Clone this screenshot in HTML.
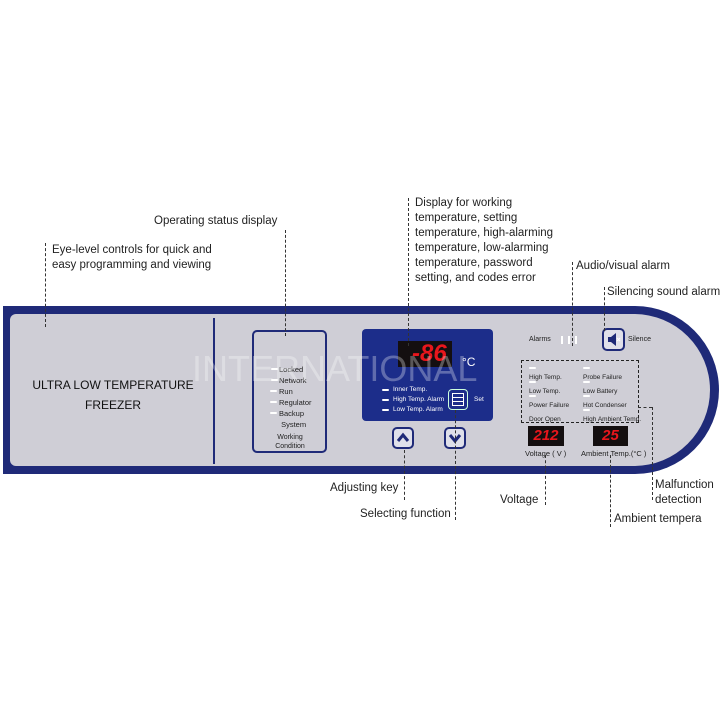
<!DOCTYPE html>
<html><head><meta charset="utf-8"><style>
body{margin:0;width:723px;height:723px;background:#fff;position:relative;overflow:hidden;font-family:"Liberation Sans",sans-serif}
.a{position:absolute}
.lbl{position:absolute;font-size:11.5px;color:#222;line-height:15px;white-space:nowrap}
.vd{position:absolute;border-left:1px dashed #333;width:0}
.s{position:absolute;font-size:6.5px;color:#222;white-space:nowrap}
.led{position:absolute;width:7px;height:2px;background:#fff;border-radius:1px}
</style></head><body>
<div class="a" style="left:3px;top:306px;width:716px;height:168px;background:#1f2a78;border-radius:0 84px 84px 0"></div>
<div class="a" style="left:10px;top:314px;width:700px;height:152px;background:#cfced6;border-radius:6px 76px 76px 6px"></div>
<div class="a" style="left:213px;top:318px;width:2px;height:146px;background:#1f2a78"></div>
<div class="a" style="left:28px;top:375px;font-size:12px;color:#111;text-align:center;width:170px;line-height:20px">ULTRA LOW TEMPERATURE<br>FREEZER</div>
<div class="a" style="left:252px;top:330px;width:71px;height:119px;border:2px solid #1f2a78;border-radius:5px"></div>
<div class="s" style="left:279px;top:364px;font-size:7.5px;line-height:11px">Locked<br>Network<br>Run<br>Regulator<br>Backup<br>&nbsp;System</div>
<div class="led" style="left:271px;top:368px"></div><div class="led" style="left:271px;top:379px"></div><div class="led" style="left:270px;top:390px"></div><div class="led" style="left:270px;top:401px"></div><div class="led" style="left:270px;top:412px"></div>
<div class="s" style="left:270px;top:433px;font-size:7px;text-align:center;width:40px;line-height:9px">Working<br>Condition</div>
<div class="a" style="left:362px;top:329px;width:131px;height:92px;background:#1c2d8a;border-radius:4px"></div>
<div class="a" style="left:398px;top:341px;width:54px;height:26px;background:#140f10"></div>
<div class="a" style="left:412px;top:340px;font-size:24px;font-style:italic;font-weight:bold;color:#e8161c">-86</div>
<div class="a" style="left:462px;top:355px;font-size:12px;color:#fff">°C</div>
<div class="led" style="left:382px;top:389px"></div><div class="led" style="left:382px;top:399px"></div><div class="led" style="left:382px;top:409px"></div>
<div class="s" style="left:393px;top:385px;color:#fff;font-size:6.5px;line-height:10px">Inner Temp.<br>High Temp. Alarm<br>Low Temp. Alarm</div>
<div class="a" style="left:448px;top:389px;width:18px;height:19px;background:#1c2d8a;border:1px solid #cfd;border-radius:4px;box-shadow:0 0 0 1px #1c2d8a"></div>
<div class="a" style="left:452px;top:393px;width:10px;height:11px;border:1px solid #fff;background:repeating-linear-gradient(#1c2d8a 0 3px,#fff 3px 4px)"></div>
<div class="s" style="left:474px;top:396px;color:#fff">Set</div>
<div class="a" style="left:192px;top:348px;font-size:36px;color:rgba(255,255,255,0.3)">INTERNATIONAL</div>
<svg class="a" style="left:392px;top:427px" width="22" height="22"><rect x="1" y="1" width="20" height="20" rx="4" fill="#dfe0ea" stroke="#1f2a78" stroke-width="2"/><path d="M6 14 L11 8 L16 14" fill="none" stroke="#1f2a78" stroke-width="3"/></svg>
<svg class="a" style="left:444px;top:427px" width="22" height="22"><rect x="1" y="1" width="20" height="20" rx="4" fill="#dfe0ea" stroke="#1f2a78" stroke-width="2"/><path d="M6 8 L11 14 L16 8" fill="none" stroke="#1f2a78" stroke-width="3"/></svg>
<div class="s" style="left:529px;top:336px;font-size:7px">Alarms</div>
<div class="a" style="left:561px;top:336px;width:2px;height:8px;background:#fff"></div><div class="a" style="left:568px;top:336px;width:2px;height:8px;background:#fff"></div><div class="a" style="left:575px;top:336px;width:2px;height:8px;background:#fff"></div>
<svg class="a" style="left:602px;top:328px" width="23" height="23"><rect x="1" y="1" width="21" height="21" rx="4" fill="#e0e0ea" stroke="#1f2a78" stroke-width="2"/><path d="M6 9 H9 L14 5 V18 L9 14 H6 Z" fill="#1f2a78"/><path d="M15 10 l3 3 M18 10 l-3 3" stroke="#fff" stroke-width="1"/></svg>
<div class="s" style="left:628px;top:336px;font-size:7px">Silence</div>
<div class="a" style="left:521px;top:360px;width:116px;height:61px;border:1px dashed #222"></div>
<div class="s" style="left:529px;top:371px;line-height:14px">High Temp.<br>Low Temp.<br>Power Failure<br>Door Open</div>
<div class="s" style="left:583px;top:371px;line-height:14px">Probe Failure<br>Low Battery<br>Hot Condenser<br>High Ambient Temp.</div>
<div class="led" style="left:529px;top:367px"></div><div class="led" style="left:529px;top:381px"></div><div class="led" style="left:529px;top:395px"></div><div class="led" style="left:583px;top:367px"></div><div class="led" style="left:583px;top:381px"></div><div class="led" style="left:583px;top:395px"></div><div class="led" style="left:583px;top:409px"></div>
<div class="a" style="left:528px;top:426px;width:36px;height:20px;background:#140f10;color:#e8161c;font-size:15px;font-weight:bold;font-style:italic;text-align:center;line-height:20px">212</div>
<div class="a" style="left:593px;top:426px;width:35px;height:20px;background:#140f10;color:#e8161c;font-size:15px;font-weight:bold;font-style:italic;text-align:center;line-height:20px">25</div>
<div class="s" style="left:525px;top:449px;font-size:7.5px">Voltage ( V )</div>
<div class="s" style="left:581px;top:449px;font-size:7.5px">Ambient Temp.(°C )</div>
<div class="vd" style="left:45px;top:243px;height:84px"></div>
<div class="vd" style="left:285px;top:230px;height:106px"></div>
<div class="vd" style="left:408px;top:198px;height:148px"></div>
<div class="vd" style="left:572px;top:262px;height:84px"></div>
<div class="vd" style="left:604px;top:287px;height:44px"></div>
<div class="vd" style="left:404px;top:450px;height:50px"></div>
<div class="vd" style="left:455px;top:410px;height:110px"></div>
<div class="vd" style="left:545px;top:455px;height:50px"></div>
<div class="vd" style="left:610px;top:455px;height:72px"></div>
<div class="vd" style="left:652px;top:407px;height:93px"></div>
<div class="a" style="left:638px;top:407px;width:14px;border-top:1px dashed #333"></div>
<div class="lbl" style="left:52px;top:243px">Eye-level controls for quick and<br>easy programming and viewing</div>
<div class="lbl" style="left:154px;top:214px">Operating status display</div>
<div class="lbl" style="left:415px;top:196px">Display for working<br>temperature, setting<br>temperature, high-alarming<br>temperature, low-alarming<br>temperature, password<br>setting, and codes error</div>
<div class="lbl" style="left:576px;top:259px">Audio/visual alarm</div>
<div class="lbl" style="left:607px;top:285px">Silencing sound alarm</div>
<div class="lbl" style="left:330px;top:481px">Adjusting key</div>
<div class="lbl" style="left:360px;top:507px">Selecting function</div>
<div class="lbl" style="left:500px;top:493px">Voltage</div>
<div class="lbl" style="left:614px;top:512px">Ambient tempera</div>
<div class="lbl" style="left:655px;top:478px">Malfunction<br>detection</div>
</body></html>
